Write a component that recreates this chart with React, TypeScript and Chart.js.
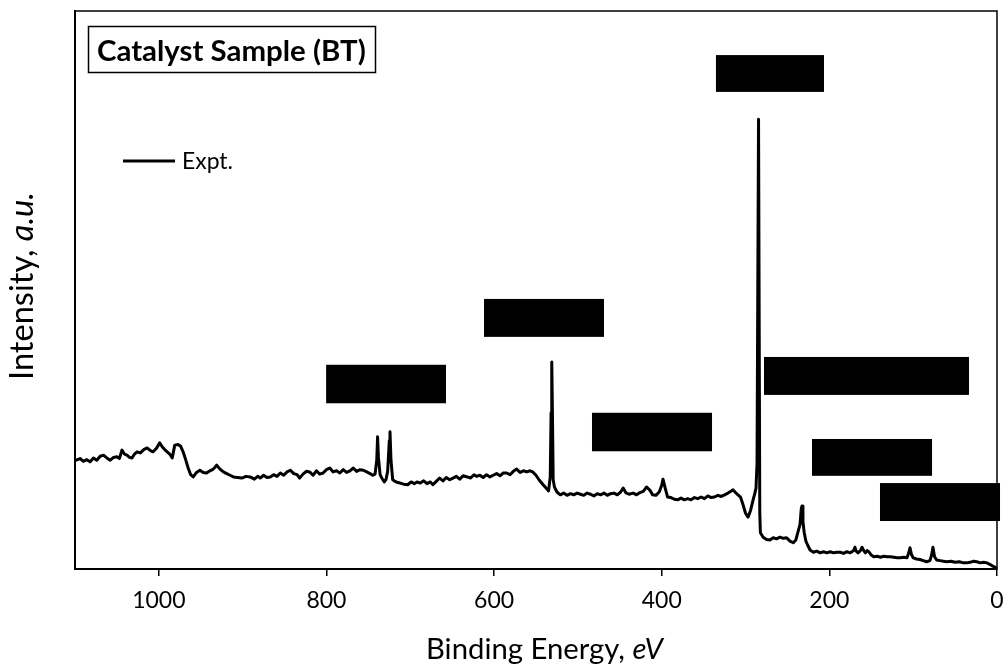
import React, { useEffect, useRef } from 'react';
import { Chart, registerables } from 'chart.js';

Chart.register(...registerables);

// Binding energy (eV) and intensity (a.u.)
const bindingEnergy = [
  1100, 1094, 1090, 1086, 1082, 1078, 1074, 1070, 1066, 1062, 1058, 1054, 1050, 1047, 1044, 1041, 1038, 1035, 1032, 1029,
  1026, 1022, 1018, 1014, 1010, 1007, 1003, 999, 996, 993, 990, 987, 984, 981, 977, 974, 971, 968, 965, 962,
  959, 955, 951, 947, 943, 939, 935, 931, 927, 923, 919, 915, 911, 906, 901, 896, 891, 886, 882, 879,
  875, 871, 867, 863, 859, 855, 851, 847, 843, 839, 835, 832, 828, 824, 820, 816, 812, 808, 804, 800,
  796, 792, 788, 784, 780, 776, 772, 768, 764, 760, 756, 752, 748, 745, 742, 740, 739, 738, 736, 734,
  731, 729, 727, 725, 724.2, 723, 721, 718, 715, 712, 708, 703, 699, 695, 692, 688, 684, 680, 676, 673,
  669, 665, 661, 657, 653, 649, 645, 641, 637, 632, 628, 624, 621, 617, 613, 609, 605, 601, 597, 593,
  589, 585, 581, 577, 573, 569, 565, 561, 557, 554, 550, 546, 542, 538, 535, 533, 532, 531.2, 530.4, 529.5,
  528, 525, 521, 517, 513, 509, 505, 501, 497, 493, 489, 485, 481, 477, 473, 469, 465, 461, 457, 453,
  449, 446, 443, 439, 434, 430, 426, 422, 418, 414, 411, 407, 403, 400, 398.5, 396, 393, 389, 385, 381,
  377, 373, 369, 365, 361, 357, 353, 349, 345, 341, 337, 333, 329, 325, 321, 317, 315, 312, 309, 306,
  303, 300, 297, 294, 291, 289, 287.5, 286.3, 284.5, 283, 282.3, 279, 275, 271, 267, 263, 259, 255,
  251, 247, 243, 240, 237.5, 235, 233.5, 232.6, 231.5, 230, 228, 226, 223, 219, 215, 211, 207, 203, 199, 195,
  191, 187, 183, 179, 175, 171, 169.5, 168, 165.8, 163, 161, 159, 157, 155, 153, 150, 147, 143, 139, 135,
  131, 127, 123, 119, 115.7, 111, 107.4, 105.5, 103.8, 102, 100, 96, 92, 88, 84, 80, 78, 76.4, 74.5, 72,
  68, 64, 60, 55, 50, 45, 40, 36, 32, 28, 24, 20, 16, 12, 8, 5, 2, 0,
];
const intensity = [
  19.4, 19.8, 19.3, 19.6, 19.2, 19.9, 19.5, 20.2, 20.4, 19.9, 19.5, 20.0, 20.1, 19.8, 21.3, 20.6, 20.4, 20.0, 19.9, 20.6,
  21.0, 20.8, 21.4, 21.7, 21.2, 21.0, 21.6, 22.6, 21.9, 21.4, 21.0, 20.6, 19.9, 22.2, 22.3, 22.0, 21.0, 19.6, 18.1, 16.9,
  16.5, 17.3, 17.7, 17.3, 17.2, 17.6, 17.9, 18.6, 17.9, 17.4, 17.1, 16.8, 16.5, 16.4, 16.3, 16.6, 16.5, 16.1, 16.6, 16.3,
  16.8, 16.4, 16.5, 16.9, 16.6, 17.2, 16.8, 17.4, 17.7, 17.1, 16.9, 16.3, 17.0, 17.5, 17.4, 16.8, 17.6, 17.0, 17.2, 17.8,
  18.1, 17.4, 17.6, 17.2, 17.8, 17.3, 17.6, 18.1, 17.5, 17.8, 17.7, 17.4, 17.1, 16.8, 17.0, 19.5, 23.7, 20.0, 16.9, 16.3,
  15.6, 16.0, 17.5, 23.0, 24.6, 19.5, 16.0, 15.7, 15.5, 15.4, 15.2, 15.1, 15.6, 15.3, 15.6, 15.4, 15.8, 15.3, 15.6, 15.1,
  15.7, 16.3, 15.8, 16.4, 16.0, 16.3, 16.6, 16.1, 16.7, 16.5, 16.3, 16.9, 16.6, 16.8, 16.4, 16.9, 16.5, 16.8, 17.1, 16.7,
  17.2, 17.2, 16.9, 17.5, 17.9, 17.3, 17.6, 17.4, 17.6, 17.4, 16.8, 15.9, 15.2, 14.5, 14.0, 16.5, 28.0, 37.1, 28.0, 16.0,
  14.7, 13.8, 13.3, 13.6, 13.2, 13.5, 13.3, 13.6, 13.4, 13.2, 13.6, 13.4, 13.1, 13.5, 13.3, 13.6, 13.2, 13.5, 13.6, 13.3,
  13.8, 14.5, 13.7, 13.4, 13.6, 13.3, 13.7, 13.9, 14.7, 14.1, 13.3, 13.2, 13.8, 15.0, 16.1, 14.6, 12.9, 12.8, 12.5, 12.4,
  12.7, 12.4, 12.6, 12.4, 12.8, 12.6, 12.9, 12.6, 13.1, 12.8, 12.9, 13.2, 13.0, 13.3, 13.6, 14.0, 14.2, 13.7, 13.3, 12.9,
  11.5, 10.0, 9.3, 10.5, 12.4, 13.5, 14.5, 19.0, 80.6, 10.0, 6.5, 5.7, 5.3, 5.2, 5.6, 5.4, 5.7, 5.5,
  5.6, 5.0, 4.7, 5.2, 6.6, 8.0, 10.8, 11.3, 8.5, 6.5, 5.0, 4.3, 3.4, 3.0, 3.2, 2.9, 3.1, 2.9, 3.1, 2.9,
  3.0, 3.0, 2.8, 3.1, 2.9, 3.3, 3.9, 3.2, 2.9, 3.3, 3.9, 3.3, 2.9, 3.3, 3.1, 2.5, 2.2, 2.3, 2.1, 2.3,
  2.2, 2.2, 2.1, 2.0, 2.0, 2.1, 2.0, 2.8, 3.8, 2.6, 2.0, 1.8, 1.7, 1.5, 1.3, 1.5, 2.5, 3.9, 2.2, 1.6,
  1.5, 1.4, 1.3, 1.4, 1.2, 1.3, 1.1, 1.1, 1.2, 1.4, 1.3, 1.1, 1.2, 1.1, 0.8, 0.5, 0.3, 0.2,
];

const xTickValues = [1000, 800, 600, 400, 200, 0];
const seriesName = 'Expt.';
const sampleLabel = 'Catalyst Sample (BT)';
const xTitleMain = 'Binding Energy, ';
const xTitleUnit = 'eV';
const yTitleMain = 'Intensity, ';
const yTitleUnit = 'a.u.';

// Redacted (blacked-out) peak label boxes, in data units
const boxEvStart = [335.3, 612.0, 800.4, 483.2, 278.0, 220.7, 139.6];
const boxEvEnd = [206.4, 468.9, 657.4, 340.0, 33.4, 77.5, -3.6];
const boxTop = [92.1, 48.4, 36.6, 28.0, 38.0, 23.3, 15.4];
const boxBottom = [85.5, 41.6, 29.7, 21.1, 31.2, 16.7, 8.6];

const FONT = 'Lato, "Open Sans", "DejaVu Sans", sans-serif';

function fitSize(ctx: CanvasRenderingContext2D, parts: { text: string; style: string; weight: string }[], width: number) {
  let total = 0;
  for (const p of parts) {
    ctx.font = `${p.style} ${p.weight} 100px ${FONT}`;
    total += ctx.measureText(p.text).width;
  }
  return (100 * width) / total;
}

function drawParts(ctx: CanvasRenderingContext2D, parts: { text: string; style: string; weight: string }[], size: number, x: number, y: number) {
  let cx = x;
  for (const p of parts) {
    ctx.font = `${p.style} ${p.weight} ${size}px ${FONT}`;
    ctx.fillText(p.text, cx, y);
    cx += ctx.measureText(p.text).width;
  }
  return cx - x;
}

const decorPlugin = {
  id: 'decor',
  afterDatasetsDraw(chart: any) {
    const ctx: CanvasRenderingContext2D = chart.ctx;
    const xs = chart.scales.x;
    const ys = chart.scales.y;
    const area = chart.chartArea;
    ctx.save();
    // black label boxes
    ctx.fillStyle = '#000';
    for (let i = 0; i < boxEvStart.length; i++) {
      const x1 = xs.getPixelForValue(boxEvStart[i]);
      const x2 = xs.getPixelForValue(boxEvEnd[i]);
      const y1 = ys.getPixelForValue(boxTop[i]);
      const y2 = ys.getPixelForValue(boxBottom[i]);
      ctx.fillRect(Math.min(x1, x2), y1, Math.abs(x2 - x1), y2 - y1);
    }
    // plot frame (top/right)
    ctx.strokeStyle = '#000';
    ctx.lineWidth = 1.5;
    ctx.strokeRect(area.left, area.top, area.right - area.left, area.bottom - area.top);

    ctx.fillStyle = '#000';
    ctx.textBaseline = 'alphabetic';
    ctx.textAlign = 'left';
    // sample label box
    const bx = area.left + 13;
    const by = area.top + 15;
    ctx.lineWidth = 1.5;
    ctx.strokeRect(bx + 0.5, by + 0.5, 287, 46);
    const titleParts = [{ text: sampleLabel, style: 'normal', weight: 'bold' }];
    const ts = fitSize(ctx, titleParts, 269);
    drawParts(ctx, titleParts, ts, bx + 9, by + 35);

    // legend
    const ly = area.top + 150;
    ctx.lineWidth = 3;
    ctx.beginPath();
    ctx.moveTo(area.left + 48, ly);
    ctx.lineTo(area.left + 100, ly);
    ctx.stroke();
    const legParts = [{ text: seriesName, style: 'normal', weight: 'normal' }];
    const lsz = fitSize(ctx, legParts, 51);
    drawParts(ctx, legParts, lsz, area.left + 107, ly + 8);

    // x axis title
    const xParts = [
      { text: xTitleMain, style: 'normal', weight: 'normal' },
      { text: xTitleUnit, style: 'italic', weight: 'normal' },
    ];
    const xsz = fitSize(ctx, xParts, 237);
    drawParts(ctx, xParts, xsz, 544.5 - 237 / 2, 659);

    // y axis title
    const yParts = [
      { text: yTitleMain, style: 'normal', weight: 'normal' },
      { text: yTitleUnit, style: 'italic', weight: 'normal' },
    ];
    const ysz = fitSize(ctx, yParts, 188);
    ctx.translate(33, 286);
    ctx.rotate(-Math.PI / 2);
    drawParts(ctx, yParts, ysz, -94, 0);
    ctx.restore();
  },
};

export default function App() {
  const ref = useRef<HTMLCanvasElement>(null);
  useEffect(() => {
    if (!ref.current) return;
    const points = bindingEnergy.map((e, i) => ({ x: e, y: intensity[i] }));
    const chart = new Chart(ref.current, {
      type: 'line',
      data: {
        datasets: [
          {
            label: seriesName,
            data: points,
            borderColor: '#000',
            borderWidth: 3,
            pointRadius: 0,
            tension: 0,
            borderJoinStyle: 'round',
            borderCapStyle: 'round',
            fill: false,
          },
        ],
      },
      options: {
        responsive: false,
        animation: false,
        devicePixelRatio: 1,
        layout: { padding: { top: 11, right: 11, left: 0, bottom: 0 } },
        plugins: {
          legend: { display: false },
          tooltip: { enabled: false },
          title: { display: false },
        },
        scales: {
          x: {
            type: 'linear',
            reverse: true,
            min: 0,
            max: 1100,
            afterBuildTicks: (s: any) => {
              s.ticks = xTickValues.map((v) => ({ value: v }));
            },
            afterFit: (s: any) => {
              s.height = 100;
              s.paddingLeft = 0;
              s.paddingRight = 0;
            },
            ticks: {
              font: { family: FONT, size: 23 },
              color: '#000',
              padding: 11,
              maxRotation: 0,
              autoSkip: false,
              callback: (v: any) => String(v),
            },
            grid: {
              display: true,
              drawOnChartArea: false,
              drawTicks: true,
              tickLength: 7,
              color: '#000',
              lineWidth: 1.5,
            },
            border: { display: true, color: '#000', width: 2 },
          },
          y: {
            type: 'linear',
            min: 0,
            max: 100,
            ticks: { display: false },
            grid: { display: false },
            border: { display: true, color: '#000', width: 2 },
            afterFit: (s: any) => {
              s.width = 75;
              s.paddingTop = 0;
              s.paddingBottom = 0;
            },
          },
        },
      },
      plugins: [decorPlugin],
    } as any);
    return () => chart.destroy();
  }, []);
  return (
    <div style={{ position: 'absolute', left: 0, top: 0, width: 1008, height: 669, background: '#fff' }}>
      <canvas ref={ref} width={1008} height={669} />
    </div>
  );
}
